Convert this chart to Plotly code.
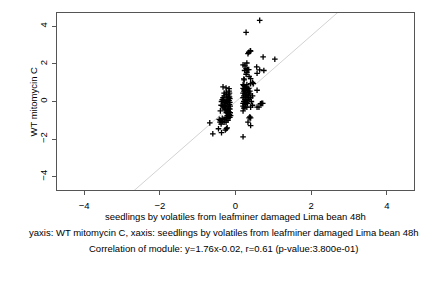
import plotly.graph_objects as go

# Data
x_left = [-0.33, -0.25, -0.17, -0.17, -0.16, -0.18, -0.24, -0.24, -0.30, -0.33, -0.35, -0.32, -0.30,
          -0.38, -0.35, -0.33, -0.30, -0.28, -0.25, -0.22, -0.20, -0.18, -0.16, -0.15, -0.17, -0.15,
          -0.16, -0.14, -0.18, -0.15, -0.20, -0.22, -0.17, -0.14, -0.20, -0.24, -0.16, -0.13, -0.18,
          -0.22, -0.15, -0.20, -0.25, -0.30, -0.27, -0.26, -0.40, -0.37, -0.30, -0.22, -0.20, -0.25,
          -0.68, -0.43, -0.40, -0.41, -0.38, -0.35, -0.30, -0.25, -0.60, -0.37, -0.45, -0.27, -0.24,
          -0.22, -0.30, -0.35, -0.20]
y_left = [0.78, 0.72, 0.68, 0.55, 0.45, 0.35, 0.50, 0.38, 0.30, 0.20, 0.10, 0.05, -0.05,
          -0.20, -0.22, -0.25, -0.28, -0.20, -0.10, 0.00, 0.10, 0.20, 0.25, 0.15, 0.05, -0.05,
          -0.15, -0.25, -0.35, -0.40, -0.45, -0.50, -0.55, -0.60, -0.65, -0.60, -0.70, -0.75, -0.80,
          -0.75, -0.85, -0.90, -0.85, -0.40, -0.45, -0.30, -0.50, 0.00, 0.45, 0.25, -0.25, 0.05,
          -1.14, -0.95, -1.00, -1.10, -1.20, -1.05, -1.10, -1.10, -1.72, -1.66, -1.45, -1.52, -1.45,
          -1.40, -0.95, -0.90, -1.00]

x_right = [0.64, 0.28, 0.39, 0.35, 0.33, 0.40, 0.73, 1.04, 0.20, 0.25, 0.30, 0.28, 0.32, 0.35,
           0.24, 0.30, 0.28, 0.56, 0.64, 0.75, 0.57, 0.36, 0.40, 0.23, 0.22, 0.45, 0.40, 0.47,
           0.20, 0.22, 0.25, 0.30, 0.35, 0.20, 0.25, 0.32, 0.22, 0.28, 0.35, 0.20, 0.25, 0.30,
           0.38, 0.22, 0.27, 0.33, 0.20, 0.25, 0.30, 0.22, 0.28, 0.20, 0.26, 0.32, 0.20, 0.25,
           0.30, 0.22, 0.20, 0.57, 0.69, 0.72, 0.66, 0.57, 0.62, 0.40, 0.45, 0.36, 0.40, 0.38,
           0.33, 0.40, 0.20, 0.40, 0.42, 0.36, 0.45, 0.30, 0.38, 0.23, 0.34]
y_right = [4.32, 3.68, 2.70, 2.62, 2.55, 2.68, 2.37, 2.25, 1.95, 1.90, 2.05, 1.75, 1.70, 1.70,
           1.65, 1.55, 1.45, 1.84, 1.68, 1.65, 1.50, 1.33, 1.22, 1.15, 1.20, 1.02, 0.95, 0.95,
           0.90, 0.85, 0.80, 0.75, 0.70, 0.70, 0.60, 0.60, 0.55, 0.50, 0.50, 0.45, 0.40, 0.35,
           0.40, 0.30, 0.25, 0.20, 0.20, 0.10, 0.05, 0.00, -0.05, -0.10, -0.15, -0.10, -0.25, -0.30,
           -0.30, -0.35, -0.50, 0.60, -0.10, -0.10, -0.12, -0.30, -0.30, -0.30, -0.20, -0.87, -0.87, -0.82,
           -1.10, -1.28, -1.88, 0.20, 0.00, 0.10, 0.30, 0.90, 0.55, 0.65, 0.30]

slope = 1.76
intercept = -0.02
x_range = [-4.72, 4.72]
y_range = [-4.71, 4.71]
x_ticks = [-4, -2, 0, 2, 4]
y_ticks = [-4, -2, 0, 2, 4]

x_title = "seedlings by volatiles from leafminer damaged Lima bean 48h"
y_title = "WT mitomycin C"
caption1 = "yaxis: WT mitomycin C, xaxis: seedlings by volatiles from leafminer damaged Lima bean 48h"
caption2 = "Correlation of module: y=1.76x-0.02, r=0.61 (p-value:3.800e-01)"

FONT = "Liberation Sans, Arial, sans-serif"
FS = 9.5

fig = go.Figure()

line_x = list(x_range)
line_y = [slope * v + intercept for v in line_x]
fig.add_trace(go.Scatter(x=line_x, y=line_y, mode="lines",
                         line=dict(color="#d2d2d2", width=1), hoverinfo="skip"))

fig.add_trace(go.Scatter(x=x_left + x_right, y=y_left + y_right, mode="markers",
                         marker=dict(symbol="cross-thin", size=4, color="black",
                                     line=dict(color="black", width=1.3))))

axis_common = dict(showgrid=False, zeroline=False, showline=True, mirror=True,
                   linecolor="#555555", linewidth=1, ticks="outside", ticklen=4,
                   tickcolor="#555555", tickwidth=1,
                   tickfont=dict(family=FONT, size=FS, color="black"))

fig.update_layout(
    width=432, height=288,
    margin=dict(l=57, r=18, t=13, b=98),
    paper_bgcolor="white", plot_bgcolor="white",
    showlegend=False,
    xaxis=dict(range=x_range, tickvals=x_ticks, ticklabelstandoff=3, **axis_common),
    yaxis=dict(range=y_range, tickvals=y_ticks, tickangle=-90, ticklabelstandoff=1, **axis_common),
    font=dict(family=FONT, size=FS, color="black"),
)

ann_font = dict(family=FONT, size=FS, color="black")
fig.add_annotation(text=x_title, xref="paper", yref="paper", x=0.5, y=-0.149,
                   yanchor="middle", showarrow=False, font=ann_font)
fig.add_annotation(text=y_title, xref="paper", yref="paper", x=-0.067, y=0.5,
                   xanchor="center", yanchor="middle", textangle=-90, showarrow=False, font=ann_font)
fig.add_annotation(text=caption1, xref="paper", yref="paper", x=0.468, y=-0.24,
                   yanchor="middle", showarrow=False, font=ann_font)
fig.add_annotation(text=caption2, xref="paper", yref="paper", x=0.465, y=-0.33,
                   yanchor="middle", showarrow=False, font=ann_font)

fig.write_html("out.html")
